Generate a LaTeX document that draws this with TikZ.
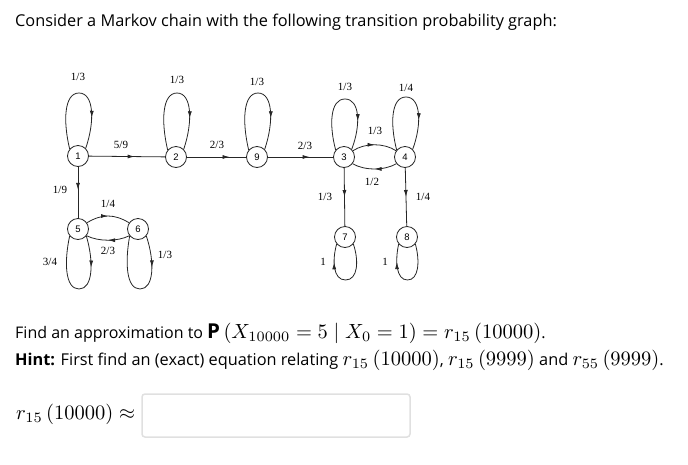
\documentclass[tikz,border=0pt]{standalone}
\usepackage{graphicx}
\usepackage{fontspec}
\setmainfont{Open Sans}
\newfontfamily\lblfont{Liberation Serif}
\newfontfamily\numfont{Liberation Sans}
\usetikzlibrary{decorations.markings,arrows.meta,calc}
\tikzset{
  st/.style={circle,draw=black!85,line width=0.8pt,minimum size=21pt,inner sep=0pt,font=\numfont\fontsize{9.5}{10}\selectfont},
  lbl/.style={font=\lblfont\fontsize{11}{12}\selectfont,inner sep=0pt},
  ar/.style={draw=black!85,line width=0.8pt,postaction={decorate},
    decoration={markings,mark=at position #1 with {\arrow{Latex[length=7pt,width=4pt]}}}},
  ar/.default=0.55,
  txt/.style={anchor=west,inner sep=0pt,font=\fontsize{16.3}{19}\selectfont},
}
% loop above node #1 reaching height #2 (px above centre)
\newcommand\toploop[2]{%
  \draw[ar=0.75] (#1.140) .. controls ($(#1)+(-15,-0.55*#2)$) and ($(#1)+(-14,-#2)$) .. ($(#1)+(1,-#2)$)
     .. controls ($(#1)+(16,-#2)$) and ($(#1)+(17,-0.55*#2)$) .. (#1.45);}
% loop below node #1 reaching depth #2, arrow at #3
\newcommand\botloop[5]{%
  \draw[ar=#3] (#1.320) .. controls ($(#1)+(#5+1,0.55*#2)$) and ($(#1)+(#5,#2)$) .. ($(#1)+(0.5*#5-0.5*#4,#2)$)
     .. controls ($(#1)+(-#4,#2)$) and ($(#1)+(-#4-1,0.55*#2)$) .. (#1.220);}
\newcommand\mth[1]{\scalebox{2.05}{\fontsize{10}{12}\selectfont$#1$}}
\begin{document}
\begin{tikzpicture}[x=1pt,y=-1pt]
\useasboundingbox (0,0) rectangle (688,464);
\node[txt] (title) at (15,22) {Consider a Markov chain with the following transition probability graph:};
% states
\node[st] (n1) at (78,156) {1};
\node[st] (n2) at (176,157) {2};
\node[st] (n9) at (257,157) {9};
\node[st] (n3) at (344,157) {3};
\node[st] (n4) at (405,157) {4};
\node[st] (n5) at (78,229) {5};
\node[st] (n6) at (138,229) {6};
\node[st] (n7) at (345,237) {7};
\node[st] (n8) at (407,237) {8};
% straight edges
\draw[ar=0.6] (n1) -- (n2);
\draw[ar=0.72] (n2) -- (n9);
\draw[ar=0.64] (n9) -- (n3);
\draw[ar=0.45] (n1) -- (n5);
\draw[ar=0.5] (n3) -- (n7);
\draw[ar=0.5] (n4) -- (n8);
% curved pairs
\draw[ar=0.5] (n3.35) .. controls +(12,-8) and +(-12,-8) .. (n4.145);
\draw[ar=0.5] (n4.218) .. controls +(-12,7) and +(12,7) .. (n3.322);
\draw[ar=0.5] (n5.35) .. controls +(15,-9) and +(-15,-9) .. (n6.145);
\draw[ar=0.5] (n6.218) .. controls +(-12,6) and +(12,6) .. (n5.322);
% top loops
\toploop{n1}{63}
\toploop{n2}{64}
\toploop{n9}{64}
\toploop{n3}{58}
\toploop{n4}{60}
% bottom loops
\botloop{n5}{60}{0.27}{13}{15}
\botloop{n6}{60}{0.27}{12}{16}
\botloop{n7}{43}{0.78}{12}{13}
\botloop{n8}{43}{0.78}{11}{12}
% labels
\node[lbl] (l11) at (78,77) {1/3};
\node[lbl] (l22) at (177,80) {1/3};
\node[lbl] (l99) at (257,82) {1/3};
\node[lbl] (l33) at (345,87) {1/3};
\node[lbl] (l44) at (406,88) {1/4};
\node[lbl] (l12) at (121,145) {5/9};
\node[lbl] (l29) at (217,145) {2/3};
\node[lbl] (l93) at (305,146) {2/3};
\node[lbl] (l34) at (375,131) {1/3};
\node[lbl] (l43) at (372,182) {1/2};
\node[lbl] (l37) at (325,197) {1/3};
\node[lbl] (l48) at (423,197) {1/4};
\node[lbl] (l15) at (60,190) {1/9};
\node[lbl] (l56) at (108,204) {1/4};
\node[lbl] (l65) at (108,251) {2/3};
\node[lbl] (l55) at (50,262) {3/4};
\node[lbl] (l66) at (165,255) {1/3};
\node[lbl] (l77) at (323,262) {1};
\node[lbl] (l88) at (385,262) {1};
% question text
\node[txt,font=\fontsize{16}{19}\selectfont] (q1) at (15,333) {Find an approximation to \mth{\mathbf{P}\left(X_{10000}=5 \mid X_0=1\right) = r_{15}\left(10000\right)}.};
\node[txt] (q2) at (15,360) {\textbf{Hint:} First find an (exact) equation relating \mth{r_{15}\left(10000\right)}, \mth{r_{15}\left(9999\right)} and \mth{r_{55}\left(9999\right)}.};
\node[anchor=west,inner sep=0pt] (ans) at (16,414) {\mth{r_{15}\left(10000\right)\approx}};
\draw[draw=black!12,line width=1.5pt,rounded corners=3pt] (142,394) rectangle (410,437);
\end{tikzpicture}
\end{document}
